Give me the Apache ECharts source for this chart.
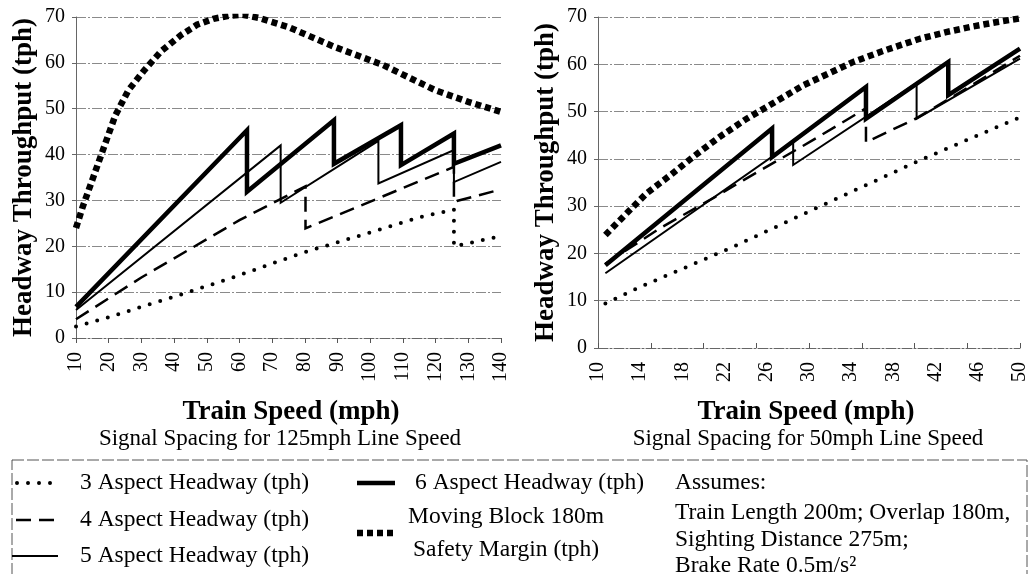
<!DOCTYPE html>
<html>
<head>
<meta charset="utf-8">
<script src="https://cdn.jsdelivr.net/npm/echarts@6/dist/echarts.min.js"></script>
<style>
  html, body { margin: 0; padding: 0; background: #fff; }
  #chart { width: 1032px; height: 574px; }
</style>
</head>
<body>
<div id="chart"></div>
<script>
// ---- data: [speed mph, throughput tph] ----
// left panel: signal spacing for 125mph line speed
const leftMoving = [[10,24],[12,28.5],[15,34.5],[18,40.5],[22,48.5],[26,54],[31,58.5],[36,62.5],[42,66],[47,68.3],[52,69.6],[57,70.3],[61,70.5],[66,69.8],[75,67.8],[89,63.5],[104,59.5],[120,54],[130,51.5],[140,49.3]];
const leftAsp3 = [[10,2.5],[20,4.5],[30,6.8],[40,9],[58,13.2],[79,18.5],[99,22.8],[115.5,26.4],[125.6,28],[125.6,20],[140,22.2]];
const leftAsp4 = [[10,4.1],[30,13.2],[60,25.7],[80.2,33.1],[80.2,23.9],[125.6,37.3],[125.6,29.7],[140,32.4]];
const leftAsp5 = [[10,6.1],[72.6,42],[72.6,29.5],[102.5,43],[102.5,33.7],[125.6,41],[125.6,34],[140,38.4]];
const leftAsp6 = [[10,6.8],[62.3,45.3],[62.3,31.9],[88.9,47.5],[88.9,38],[109.4,46.4],[109.4,37.7],[125.6,44.6],[125.6,38],[140,42]];

// right panel: signal spacing for 50mph line speed
const rightMoving = [[10.7,23.9],[12.5,28],[14.6,32.7],[17,36.8],[19,40.4],[21.5,44.6],[24.1,48.5],[27,52.3],[29.5,55.6],[32,58.2],[34.2,60.5],[37,62.8],[40.5,65.4],[43,66.8],[45.3,67.9],[48,69],[50,69.7]];
const rightAsp3 = [[10.7,9.4],[13.7,12.6],[22.8,21.4],[31,29.9],[40.5,39.7],[50,48.8]];
const rightAsp4 = [[10.7,17.8],[16,25.5],[21,31.8],[23.8,35.5],[30.4,44],[35.4,50.7],[35.4,43.5],[40.2,48.6],[45,55],[50,61.8]];
const rightAsp5 = [[10.7,15.8],[28.5,43.6],[28.5,38.7],[40.2,56],[40.2,48.5],[50,61.2]];
const rightAsp6 = [[10.7,17.5],[26.5,46.4],[26.5,40.4],[35.4,55.2],[35.4,48.5],[43.2,60.5],[43.2,53.5],[50,63.3]];

// axis ranges / tick steps
const leftX = { min: 10, max: 140, step: 10 };
const rightX = { min: 10, max: 50, step: 4, tickStep: 5 };
const yRange = { min: 0, max: 70, step: 10 };

const names = {
  a3: '3 Aspect Headway (tph)',
  a4: '4 Aspect Headway (tph)',
  a5: '5 Aspect Headway (tph)',
  a6: '6 Aspect Headway (tph)',
  mb: 'Moving Block 180m Safety Margin (tph)'
};

const FONT = 'Liberation Serif';
const GRID_GRAY = '#8a8a8a';
const LEG = 23.5;

// line looks, shared by plot and legend
const styles = {
  a3: { width: 4, type: [0, 11], cap: 'round' },
  a4: { width: 2.5, type: [15, 8], cap: 'butt' },
  a5: { width: 2, type: 'solid', cap: 'butt' },
  a6: { width: 4.5, type: 'solid', cap: 'butt' },
  mb: { width: 6.5, type: [6, 4], cap: 'butt' }
};

function mkSeries(key, data, idx) {
  return {
    name: names[key],
    type: 'line',
    xAxisIndex: idx === 0 ? 0 : 1,
    yAxisIndex: idx,
    data: data,
    symbol: 'none',
    silent: true,
    lineStyle: Object.assign({ color: '#000', join: 'miter' }, styles[key])
  };
}

function xAxisBase(grid, r, step) {
  return {
    gridIndex: grid, type: 'value', min: r.min, max: r.max, interval: step,
    axisLine: { show: true, onZero: false, lineStyle: { color: '#666', width: 1, type: [10, 2, 2, 2] } },
    axisTick: { show: true, length: 5, lineStyle: { color: '#555' } },
    axisLabel: { rotate: 90, fontSize: 20, fontFamily: FONT, color: '#000', margin: 14 },
    splitLine: { show: false }
  };
}

function yAxisBase(grid) {
  return {
    gridIndex: grid, type: 'value', min: yRange.min, max: yRange.max, interval: yRange.step,
    name: 'Headway Throughput (tph)', nameLocation: 'middle', nameGap: 38,
    nameTextStyle: { fontSize: 27, fontWeight: 'bold', fontFamily: FONT, color: '#000' },
    axisLine: { show: true, lineStyle: { color: '#666', width: 1 } },
    axisTick: { show: true, length: 4, lineStyle: { color: '#666' } },
    axisLabel: { fontSize: 20, fontFamily: FONT, color: '#000', margin: 11 },
    splitLine: { show: true, lineStyle: { color: GRID_GRAY, width: 1, type: [10, 2, 2, 2] } }
  };
}

const rightTicks = xAxisBase(1, rightX, rightX.tickStep);
rightTicks.axisLabel = { show: false };
rightTicks.axisLine = { show: false };
const rightLabels = xAxisBase(1, rightX, rightX.step);
rightLabels.axisTick = { show: false };

function txt(x, y, text, size, opts) {
  return {
    type: 'text', x: x, y: y, silent: true,
    style: Object.assign({
      text: text, fontSize: size, fontFamily: FONT, fill: '#000',
      align: 'left', verticalAlign: 'middle'
    }, opts || {})
  };
}
function sym(key, x1, x2, y) {
  const s = styles[key];
  return {
    type: 'line', silent: true,
    shape: { x1: x1, y1: y, x2: x2, y2: y },
    style: { stroke: '#000', lineWidth: s.width, lineDash: Array.isArray(s.type) ? s.type : null, lineCap: s.cap }
  };
}

const chart = echarts.init(document.getElementById('chart'), null, { renderer: 'canvas' });
chart.setOption({
  animation: false,
  backgroundColor: '#fff',
  grid: [
    { left: 76, top: 17, width: 425, height: 321 },
    { left: 598, top: 17, width: 422, height: 331 }
  ],
  xAxis: [xAxisBase(0, leftX, leftX.step), rightLabels, rightTicks],
  yAxis: [yAxisBase(0), yAxisBase(1)],
  series: [
    mkSeries('mb', leftMoving, 0),
    mkSeries('a3', leftAsp3, 0),
    mkSeries('a4', leftAsp4, 0),
    mkSeries('a5', leftAsp5, 0),
    mkSeries('a6', leftAsp6, 0),
    mkSeries('mb', rightMoving, 1),
    mkSeries('a3', rightAsp3, 1),
    mkSeries('a4', rightAsp4, 1),
    mkSeries('a5', rightAsp5, 1),
    mkSeries('a6', rightAsp6, 1)
  ],
  graphic: [
    txt(291, 412, 'Train Speed (mph)', 27, { fontWeight: 'bold', align: 'center' }),
    txt(280, 439, 'Signal Spacing for 125mph Line Speed', 23, { align: 'center' }),
    txt(806, 412, 'Train Speed (mph)', 27, { fontWeight: 'bold', align: 'center' }),
    txt(808, 439, 'Signal Spacing for 50mph Line Speed', 23, { align: 'center' }),
    // legend box
    {
      type: 'rect', silent: true,
      shape: { x: 12, y: 460, width: 1015, height: 130 },
      style: { fill: 'none', stroke: '#555', lineWidth: 1, lineDash: [12, 3] }
    },
    sym('a3', 17, 52, 483), txt(80, 483, names.a3, LEG),
    sym('a4', 16, 60, 520), txt(80, 520, names.a4, LEG),
    sym('a5', 12, 58, 556), txt(80, 556, names.a5, LEG),
    sym('a6', 357, 395, 483), txt(415, 483, names.a6, LEG),
    sym('mb', 357, 393, 533),
    txt(506, 517, 'Moving Block 180m', LEG, { align: 'center' }),
    txt(506, 550, 'Safety Margin (tph)', LEG, { align: 'center' }),
    txt(675, 483, 'Assumes:', LEG),
    txt(675, 513, 'Train Length 200m; Overlap 180m,', LEG),
    txt(675, 540, 'Sighting Distance 275m;', LEG),
    txt(675, 566, 'Brake Rate 0.5m/s\u00b2', LEG)
  ]
});
</script>
</body>
</html>
